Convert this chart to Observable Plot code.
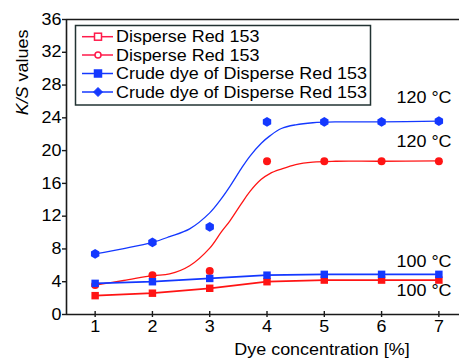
<!DOCTYPE html>
<html>
<head>
<meta charset="utf-8">
<script src="https://cdn.jsdelivr.net/npm/d3@7"></script>
<script src="https://cdn.jsdelivr.net/npm/@observablehq/plot@0.6"></script>
<style>
  html, body { margin: 0; padding: 0; background: #fff; }
  #chart { position: relative; width: 459px; height: 358px; overflow: hidden; }
  svg { font-family: "Liberation Sans", Arial, sans-serif; }
</style>
</head>
<body>
<div id="chart"></div>
<script>
// ---- data ----
const concentrations = [1, 2, 3, 4, 5, 6, 7];
const red100 = [2.3, 2.6, 3.2, 4.0, 4.2, 4.2, 4.2];      // Disperse Red 153, 100 °C
const red120 = [3.6, 4.8, 5.3, 18.7, 18.7, 18.7, 18.7];  // Disperse Red 153, 120 °C
const blue100 = [3.8, 4.0, 4.4, 4.8, 4.9, 4.9, 4.9];     // Crude dye, 100 °C
const blue120 = [7.4, 8.8, 10.7, 23.5, 23.5, 23.5, 23.6]; // Crude dye, 120 °C

// fitted curves for 120 °C
const fitX = [1, 1.5, 2, 2.3, 2.65, 3.0, 3.2, 3.35, 3.55, 3.7, 3.9, 4.05, 4.25, 4.5, 4.8, 5.2, 6, 7];
const blue120Fit = [7.4, 8.05, 8.8, 9.5, 10.45, 12.4, 14.1, 15.6, 17.8, 19.3, 20.9, 21.8, 22.7, 23.15, 23.4, 23.5, 23.5, 23.6];
const red120Fit = [3.6, 4.15, 4.75, 4.95, 5.95, 8.1, 10.05, 11.4, 13.5, 15.0, 16.5, 17.2, 17.75, 18.3, 18.6, 18.7, 18.7, 18.75];

const yTicks = [0, 4, 8, 12, 16, 20, 24, 28, 32, 36];
const xTicks = [1, 2, 3, 4, 5, 6, 7];
const legendLabels = ["Disperse Red 153", "Disperse Red 153", "Crude dye of Disperse Red 153", "Crude dye of Disperse Red 153"];
const tempLabels = [
  {text: "120 °C", x: 7.22, y: 25.75},
  {text: "120 °C", x: 7.22, y: 20.4},
  {text: "100 °C", x: 7.22, y: 5.75},
  {text: "100 °C", x: 7.22, y: 2.3}
];

const RED = "#ff1414";
const BLUE = "#1438ff";
const AXIS = "#1a1a1a";
const INK = "#000";
const FS = 16;

const pts = (ys) => concentrations.map((x, i) => ({x, y: ys[i]}));
const fit = (ys) => fitX.map((x, i) => ({x, y: ys[i]}));

const plot = Plot.plot({
  width: 459,
  height: 358,
  marginLeft: 66,
  marginRight: 0,
  marginTop: 19,
  marginBottom: 44,
  style: {fontFamily: "Liberation Sans, Arial, sans-serif", fontSize: FS + "px", color: AXIS, background: "white"},
  x: {domain: [0.5, 7.36], label: null},
  y: {domain: [0, 36], label: null},
  marks: [
    // curves
    Plot.line(fit(blue120Fit), {x: "x", y: "y", stroke: BLUE, strokeWidth: 1.3, curve: "catmull-rom"}),
    Plot.line(fit(red120Fit), {x: "x", y: "y", stroke: RED, strokeWidth: 1.3, curve: "catmull-rom"}),
    Plot.line(pts(blue100), {x: "x", y: "y", stroke: BLUE, strokeWidth: 1.8}),
    Plot.line(pts(red100), {x: "x", y: "y", stroke: RED, strokeWidth: 1.8}),
    // markers
    Plot.dot(pts(red100), {x: "x", y: "y", fill: RED, symbol: "square", r: 4.2}),
    Plot.dot(pts(red120), {x: "x", y: "y", fill: RED, symbol: "circle", r: 4}),
    Plot.dot(pts(blue100), {x: "x", y: "y", fill: BLUE, symbol: "square", r: 4.2}),
    Plot.dot(pts(blue120), {x: "x", y: "y", fill: BLUE, symbol: "hexagon", r: 4.2}),
    // temperature labels
    Plot.text(tempLabels, {x: "x", y: "y", text: "text", textAnchor: "end", lineAnchor: "bottom", fontSize: FS, fill: INK}),
    // axes
    Plot.axisY(yTicks, {tickSize: 4, tickPadding: 1, stroke: AXIS, strokeWidth: 1.4, fontSize: FS, fill: INK}),
    Plot.axisX(xTicks, {tickSize: 6, dy: -3, text: null, stroke: AXIS, strokeWidth: 1.4}),
    Plot.axisX(xTicks, {tickSize: 0, tickPadding: 6, fontSize: FS, fill: INK}),
    Plot.ruleY([0], {stroke: AXIS, strokeWidth: 1.6}),
    Plot.ruleY([36], {stroke: AXIS, strokeWidth: 1.6}),
    Plot.ruleX([0.5], {stroke: AXIS, strokeWidth: 1.6})
  ]
});

document.getElementById("chart").appendChild(plot);

// ---- extras: axis titles and legend ----
const svg = d3.select(plot);

// y title with italic K/S
const yt = svg.append("text")
  .attr("transform", "translate(28,72.5) rotate(-90)")
  .attr("text-anchor", "middle")
  .attr("font-size", FS)
  .attr("fill", INK);
yt.append("tspan").attr("font-style", "italic").text("K/S");
yt.append("tspan").text(" values");

// x title
svg.append("text")
  .attr("x", 322).attr("y", 355)
  .attr("text-anchor", "middle")
  .attr("font-size", FS)
  .attr("fill", INK)
  .text("Dye concentration [%]");

// legend
const lg = svg.append("g").attr("text-anchor", "start");
lg.append("rect")
  .attr("x", 75.5).attr("y", 25.5).attr("width", 295).attr("height", 79.5)
  .attr("fill", "white").attr("stroke", "#223333").attr("stroke-width", 1.5);
const legendStyles = [
  {color: "#ff1a4a", shape: "square", fill: "white"},
  {color: "#ff1a4a", shape: "circle", fill: "white"},
  {color: BLUE, shape: "square", fill: BLUE},
  {color: BLUE, shape: "diamond", fill: BLUE}
];
const rowY = [36.7, 55, 73.5, 92];
legendLabels.forEach((lab, i) => {
  const y = rowY[i];
  const st = legendStyles[i];
  lg.append("line").attr("x1", 82).attr("x2", 113).attr("y1", y).attr("y2", y)
    .attr("stroke", st.color).attr("stroke-width", 1.5);
  if (st.shape === "square") {
    lg.append("rect").attr("x", 94.5).attr("y", y - 3.5).attr("width", 7).attr("height", 7)
      .attr("fill", st.fill).attr("stroke", st.color).attr("stroke-width", 1.5);
  } else if (st.shape === "circle") {
    lg.append("circle").attr("cx", 98).attr("cy", y).attr("r", 3)
      .attr("fill", st.fill).attr("stroke", st.color).attr("stroke-width", 1.5);
  } else {
    lg.append("path").attr("d", `M98,${y-4.5}L102.5,${y}L98,${y+4.5}L93.5,${y}Z`)
      .attr("fill", st.fill).attr("stroke", st.color).attr("stroke-width", 1);
  }
  lg.append("text").attr("x", 116).attr("y", y).attr("dy", "0.36em")
    .attr("text-anchor", "start")
    .attr("font-size", FS).attr("fill", INK).text(lab);
});

// the reference typeface is slightly wide: stretch every text horizontally
plot.querySelectorAll("text").forEach((t) => {
  const w = t.getComputedTextLength();
  if (w > 0) {
    t.setAttribute("textLength", (w * 1.12).toFixed(2));
    t.setAttribute("lengthAdjust", "spacingAndGlyphs");
  }
});
</script>
</body>
</html>
